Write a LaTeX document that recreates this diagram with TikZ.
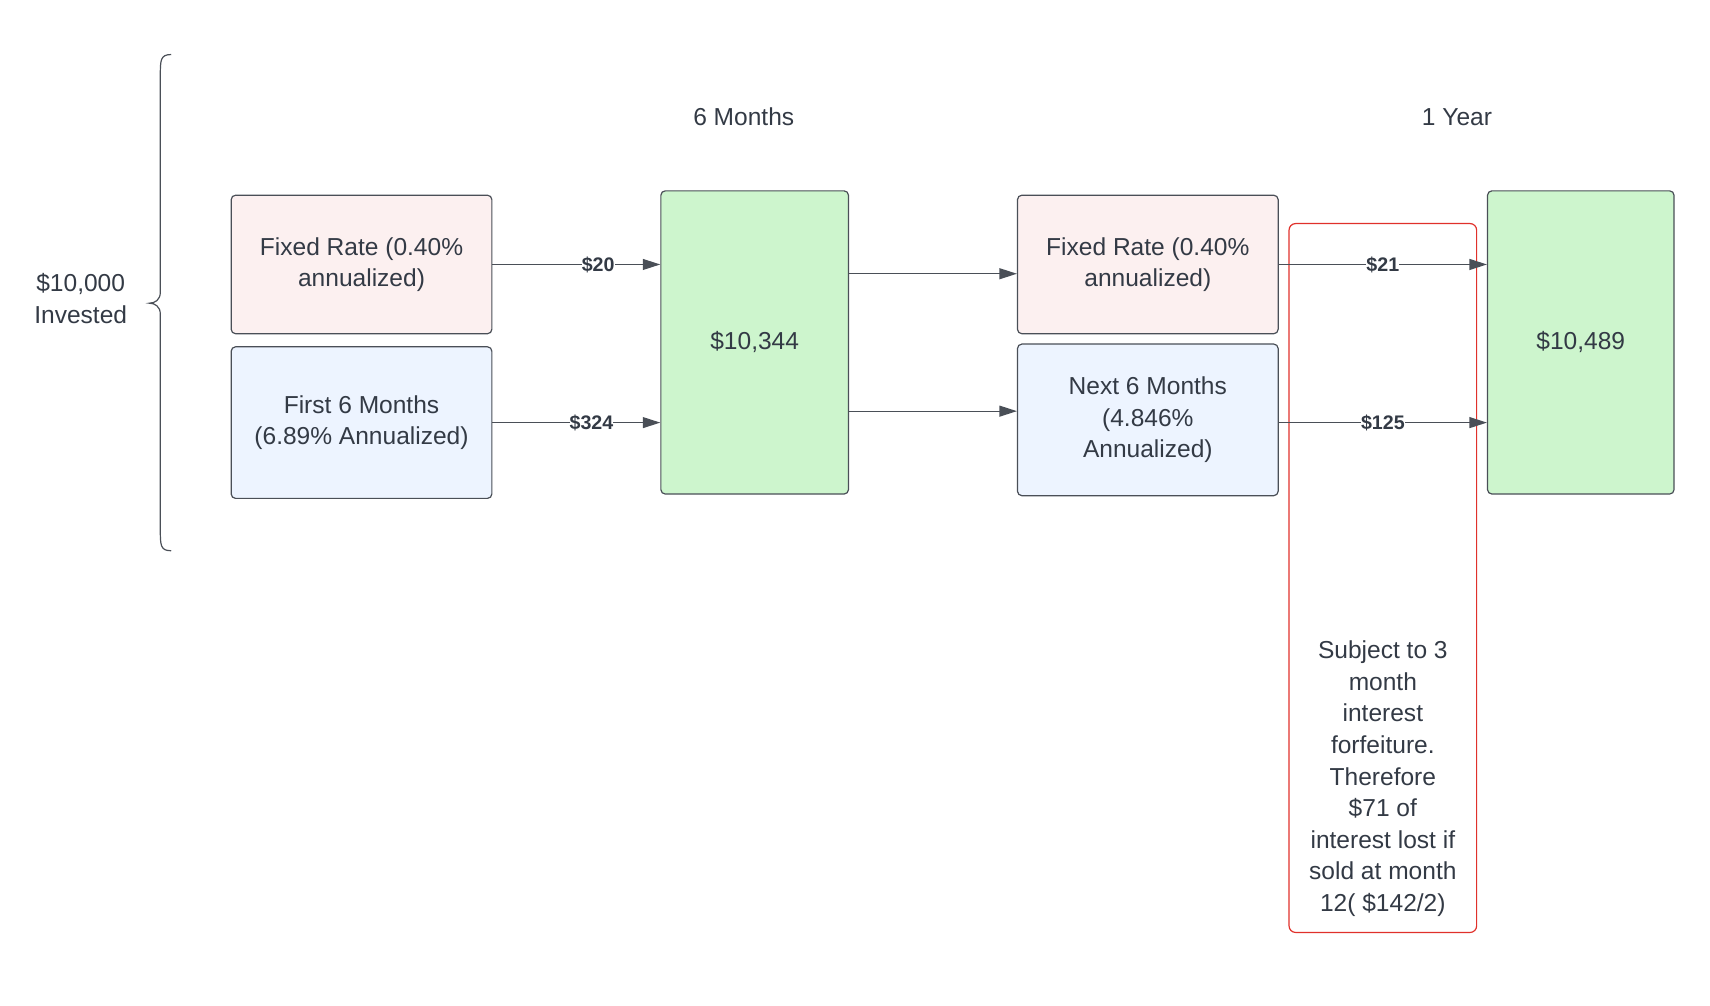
\documentclass[tikz,border=0pt]{standalone}
\usepackage{fontspec}
\setmainfont{Liberation Sans}
\usetikzlibrary{arrows.meta,calc,decorations.pathreplacing}
\definecolor{txt}{HTML}{333A45}
\definecolor{edge}{HTML}{4A4F57}
\definecolor{pinkfill}{HTML}{FCF0F0}
\definecolor{bluefill}{HTML}{EDF4FF}
\definecolor{greenfill}{HTML}{CDF5CD}
\definecolor{redline}{HTML}{E0312B}
\begin{document}
\begin{tikzpicture}[x=1pt, y=-1pt, >={Triangle[length=16pt,width=10pt]},
  every node/.style={font=\fontsize{22.5}{29}\selectfont, text=txt, align=center},
  box/.style={draw=edge, line width=1.1pt, rounded corners=4pt, inner sep=0pt},
  flow/.style={draw=edge, line width=1.1pt, ->},
  amt/.style={font=\fontsize{18}{20}\selectfont\bfseries, inner sep=0pt}]

	\useasboundingbox (0,0) rectangle (1568,922);

	% headings
	\node (inv) at (74,274) {\$10,000\\Invested};
	\node (mid) at (682,107) {6 Months};
	\node (end) at (1336,107) {1 Year};
	\draw[edge, line width=1.1pt] (157,50) .. controls (147,50) and (147,55) .. (147,70) -- (147,268)
		.. controls (147,275) and (142,278) .. (137,278)
		.. controls (142,278) and (147,281) .. (147,288) -- (147,485)
		.. controls (147,500) and (147,505) .. (157,505);

	% first half
	\node[box, fill=pinkfill, minimum width=239pt, minimum height=127pt] (fix1) at (331.5,242.5) {Fixed Rate (0.40\%\\annualized)};
	\node[box, fill=bluefill, minimum width=239pt, minimum height=139pt] (six1) at (331.5,387.5) {First 6 Months\\(6.89\% Annualized)};
	\node[box, fill=greenfill, minimum width=172pt, minimum height=278pt] (tot1) at (692,314) {\$10,344};

	% second half
	\node[box, fill=pinkfill, minimum width=239pt, minimum height=127pt] (fix2) at (1052.5,242.5) {Fixed Rate (0.40\%\\annualized)};
	\node[box, fill=bluefill, minimum width=239pt, minimum height=139pt] (six2) at (1052.5,385) {Next 6 Months\\(4.846\%\\Annualized)};
	\node[box, fill=greenfill, minimum width=171pt, minimum height=278pt] (tot2) at (1449.5,314) {\$10,489};

	% penalty note
	\node[draw=redline, line width=1.1pt, rounded corners=6pt, minimum width=172pt, minimum height=650pt, inner sep=0pt] (note) at (1268,530) {};
	\node (notetxt) at (1268,714) {Subject to 3\\month\\interest\\forfeiture.\\Therefore\\\$71 of\\interest lost if\\sold at month\\12( \$142/2)};

	% arrows
	\draw[flow] (fix1.east) -- (tot1.west |- fix1.east) node[amt, pos=0.63, fill=white] {\$20};
	\draw[flow] (six1.east) -- (tot1.west |- six1.east) node[amt, pos=0.59, fill=white] {\$324};
	\draw[flow] (tot1.east |- 0,251) -- (fix2.west |- 0,251);
	\draw[flow] (tot1.east |- 0,377) -- (six2.west |- 0,377);
	\draw[flow] (fix2.east) -- (tot2.west |- fix2.east) node[amt, pos=0.5, fill=white] {\$21};
	\draw[flow] (six2.east |- six1.east) -- (tot2.west |- six1.east) node[amt, pos=0.5, fill=white] {\$125};
\end{tikzpicture}
\end{document}
